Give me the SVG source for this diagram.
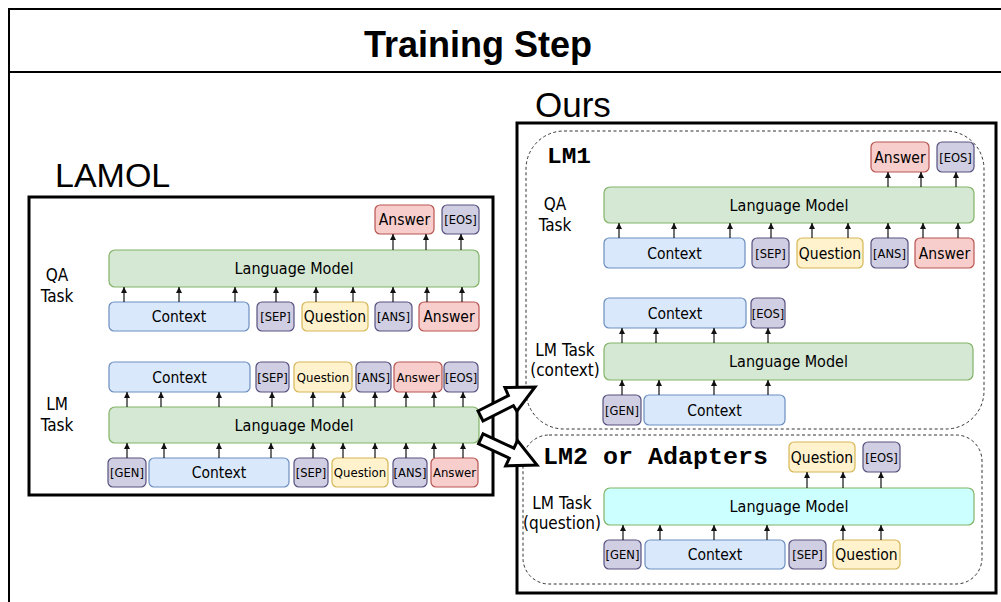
<svg xmlns="http://www.w3.org/2000/svg" width="1001" height="602" viewBox="0 0 1001 602">
  <defs>
    <marker id="tip" viewBox="0 0 6 6" refX="6" refY="3" markerWidth="6" markerHeight="6" markerUnits="userSpaceOnUse" orient="auto">
      <path d="M0,0 L6,3 L0,6 z" fill="#111"/>
    </marker>
    <style>
      .frame { fill: none; stroke: #000; stroke-width: 2; }
      .panel { fill: none; stroke: #000; stroke-width: 3; }
      .dash { fill: none; stroke: #333; stroke-width: 1; stroke-dasharray: 3 2.5; }
      rect.b, rect.g, rect.y, rect.r, rect.p, rect.c { stroke-width: 1.2; }
      .b { fill: #dae8fc; stroke: #6c8ebf; }
      .g { fill: #d5e8d4; stroke: #82b366; }
      .y { fill: #fff2cc; stroke: #d6b656; }
      .r { fill: #f8cecc; stroke: #b85450; }
      .p { fill: #d0cee2; stroke: #56517e; }
      .c { fill: #ccffff; stroke: #82b366; }
      text { font-family: "DejaVu Sans Condensed", "DejaVu Sans", sans-serif; font-stretch: condensed; fill: #000; }
      .t { font-size: 15.5px; text-anchor: middle; }
      .lm { font-size: 16px; text-anchor: middle; }
      .s { font-size: 12.8px; text-anchor: middle; }
      .m { font-size: 13px; text-anchor: middle; }
      .lab { font-size: 17px; text-anchor: middle; }
      .head { font-family: "Liberation Sans", Arial, sans-serif; font-stretch: normal; }
      .mono { font-family: "Liberation Mono", "Courier New", monospace; font-stretch: normal; font-weight: bold; }
      .edges line { stroke: #111; stroke-width: 1.2; marker-end: url(#tip); }
      .big { fill: #fff; stroke: #000; stroke-width: 3; stroke-linejoin: miter; }
    </style>
  </defs>

  <!-- outer table frame with title row -->
  <rect class="frame" x="9" y="9" width="1010" height="620"/>
  <line class="frame" x1="9" y1="72" x2="1001" y2="72"/>
  <text class="head" x="478" y="57" font-size="36" font-weight="bold" text-anchor="middle">Training Step</text>

  <!-- panels -->
  <text class="head" x="55" y="187" font-size="34">LAMOL</text>
  <rect class="panel" x="29" y="197" width="464" height="298"/>
  <text class="head" x="535" y="117" font-size="35">Ours</text>
  <rect class="panel" x="517" y="123" width="479" height="470"/>
  <rect class="dash" x="526" y="131" width="458" height="298" rx="38" ry="38"/>
  <rect class="dash" x="523" y="435" width="459" height="149" rx="26" ry="26"/>
  <text class="mono" x="547" y="163" font-size="22" textLength="44" lengthAdjust="spacingAndGlyphs">LM1</text>
  <text class="mono" x="543" y="464" font-size="24" textLength="225" lengthAdjust="spacingAndGlyphs">LM2 or Adapters</text>

  <!-- task labels -->
  <g id="labels">
    <text class="lab" x="57" y="281">QA</text>
    <text class="lab" x="57" y="302">Task</text>
    <text class="lab" x="57" y="410">LM</text>
    <text class="lab" x="57" y="431">Task</text>
    <text class="lab" x="555" y="210">QA</text>
    <text class="lab" x="555" y="231">Task</text>
    <text class="lab" x="565" y="356">LM Task</text>
    <text class="lab" x="565" y="376">(context)</text>
    <text class="lab" x="562" y="509">LM Task</text>
    <text class="lab" x="562" y="529">(question)</text>
  </g>

  <!-- LAMOL: QA task -->
  <g id="lamol-qa-out-answer"><rect class="r" x="375" y="205" width="59" height="29" rx="5"/><text class="t" x="404.5" y="225">Answer</text></g>
  <g id="lamol-qa-out-eos"><rect class="p" x="442" y="205" width="37" height="29" rx="5"/><text class="s" x="460.5" y="224">[EOS]</text></g>
  <g id="lamol-qa-lm"><rect class="g" x="109" y="250" width="370" height="37" rx="6"/><text class="lm" x="294" y="274.3">Language Model</text></g>
  <g id="lamol-qa-context"><rect class="b" x="109" y="302" width="140" height="29" rx="5"/><text class="t" x="179" y="322">Context</text></g>
  <g id="lamol-qa-sep"><rect class="p" x="257" y="302" width="37" height="29" rx="5"/><text class="s" x="275.5" y="321">[SEP]</text></g>
  <g id="lamol-qa-question"><rect class="y" x="302" y="302" width="66" height="29" rx="5"/><text class="t" x="335" y="322">Question</text></g>
  <g id="lamol-qa-ans"><rect class="p" x="375" y="302" width="37" height="29" rx="5"/><text class="s" x="393.5" y="321">[ANS]</text></g>
  <g id="lamol-qa-answer"><rect class="r" x="419" y="302" width="60" height="29" rx="5"/><text class="t" x="449" y="322">Answer</text></g>

  <!-- LAMOL: LM task -->
  <g id="lamol-lm-out-context"><rect class="b" x="109" y="362" width="141" height="30" rx="5"/><text class="t" x="179.5" y="382.5">Context</text></g>
  <g id="lamol-lm-out-sep"><rect class="p" x="256" y="362" width="33" height="30" rx="5"/><text class="s" x="272.5" y="381.5">[SEP]</text></g>
  <g id="lamol-lm-out-question"><rect class="y" x="294" y="362" width="58" height="30" rx="5"/><text class="m" x="323" y="381.7">Question</text></g>
  <g id="lamol-lm-out-ans"><rect class="p" x="356" y="362" width="35" height="30" rx="5"/><text class="s" x="373.5" y="381.5">[ANS]</text></g>
  <g id="lamol-lm-out-answer"><rect class="r" x="394" y="362" width="48" height="30" rx="5"/><text class="m" x="418" y="381.7">Answer</text></g>
  <g id="lamol-lm-out-eos"><rect class="p" x="444" y="362" width="34" height="30" rx="5"/><text class="s" x="461" y="381.5">[EOS]</text></g>
  <g id="lamol-lm-lm"><rect class="g" x="109" y="407" width="370" height="36" rx="6"/><text class="lm" x="294" y="430.8">Language Model</text></g>
  <g id="lamol-lm-gen"><rect class="p" x="108" y="458" width="38" height="29" rx="5"/><text class="s" x="127" y="477">[GEN]</text></g>
  <g id="lamol-lm-context"><rect class="b" x="149" y="458" width="140" height="29" rx="5"/><text class="t" x="219" y="478">Context</text></g>
  <g id="lamol-lm-sep"><rect class="p" x="294" y="458" width="34" height="29" rx="5"/><text class="s" x="311" y="477">[SEP]</text></g>
  <g id="lamol-lm-question"><rect class="y" x="332" y="458" width="56" height="29" rx="5"/><text class="m" x="360" y="477.2">Question</text></g>
  <g id="lamol-lm-ans"><rect class="p" x="393" y="458" width="34" height="29" rx="5"/><text class="s" x="410" y="477">[ANS]</text></g>
  <g id="lamol-lm-answer"><rect class="r" x="431" y="458" width="47" height="29" rx="5"/><text class="m" x="454.5" y="477.2">Answer</text></g>

  <!-- Ours, LM1: QA task -->
  <g id="lm1-qa-out-answer"><rect class="r" x="871" y="142" width="58" height="30" rx="5"/><text class="t" x="900" y="162.5">Answer</text></g>
  <g id="lm1-qa-out-eos"><rect class="p" x="937" y="142" width="37" height="30" rx="5"/><text class="s" x="955.5" y="161.5">[EOS]</text></g>
  <g id="lm1-qa-lm"><rect class="g" x="604" y="187" width="370" height="36" rx="6"/><text class="lm" x="789" y="210.8">Language Model</text></g>
  <g id="lm1-qa-context"><rect class="b" x="604" y="238" width="141" height="30" rx="5"/><text class="t" x="674.5" y="258.5">Context</text></g>
  <g id="lm1-qa-sep"><rect class="p" x="752" y="238" width="37" height="30" rx="5"/><text class="s" x="770.5" y="257.5">[SEP]</text></g>
  <g id="lm1-qa-question"><rect class="y" x="797" y="238" width="66" height="30" rx="5"/><text class="t" x="830" y="258.5">Question</text></g>
  <g id="lm1-qa-ans"><rect class="p" x="871" y="238" width="37" height="30" rx="5"/><text class="s" x="889.5" y="257.5">[ANS]</text></g>
  <g id="lm1-qa-answer"><rect class="r" x="915" y="238" width="59" height="30" rx="5"/><text class="t" x="944.5" y="258.5">Answer</text></g>

  <!-- Ours, LM1: LM task (context) -->
  <g id="lm1-lm-out-context"><rect class="b" x="604" y="298" width="142" height="30" rx="5"/><text class="t" x="675" y="318.5">Context</text></g>
  <g id="lm1-lm-out-eos"><rect class="p" x="751" y="298" width="34" height="30" rx="5"/><text class="s" x="768" y="317.5">[EOS]</text></g>
  <g id="lm1-lm-lm"><rect class="g" x="604" y="343" width="369" height="37" rx="6"/><text class="lm" x="788.5" y="367.3">Language Model</text></g>
  <g id="lm1-lm-gen"><rect class="p" x="603" y="395" width="38" height="30" rx="5"/><text class="s" x="622" y="414.5">[GEN]</text></g>
  <g id="lm1-lm-context"><rect class="b" x="644" y="395" width="141" height="30" rx="5"/><text class="t" x="714.5" y="415.5">Context</text></g>

  <!-- Ours, LM2 or adapters: LM task (question) -->
  <g id="lm2-out-question"><rect class="y" x="789" y="442" width="66" height="30" rx="5"/><text class="t" x="822" y="462.5">Question</text></g>
  <g id="lm2-out-eos"><rect class="p" x="863" y="442" width="37" height="30" rx="5"/><text class="s" x="881.5" y="461.5">[EOS]</text></g>
  <g id="lm2-lm"><rect class="c" x="604" y="488" width="370" height="37" rx="6"/><text class="lm" x="789" y="512.3">Language Model</text></g>
  <g id="lm2-gen"><rect class="p" x="604" y="540" width="37" height="29" rx="5"/><text class="s" x="622.5" y="559">[GEN]</text></g>
  <g id="lm2-context"><rect class="b" x="645" y="540" width="140" height="29" rx="5"/><text class="t" x="715" y="560">Context</text></g>
  <g id="lm2-sep"><rect class="p" x="789" y="540" width="37" height="29" rx="5"/><text class="s" x="807.5" y="559">[SEP]</text></g>
  <g id="lm2-question"><rect class="y" x="833" y="540" width="67" height="29" rx="5"/><text class="t" x="866.5" y="560">Question</text></g>

  <!-- token-to-model connectors -->
  <g id="connectors" class="edges">
    <!-- LAMOL QA: inputs to model -->
    <line x1="124" y1="302" x2="124" y2="287"/><line x1="179" y1="302" x2="179" y2="287"/><line x1="235" y1="302" x2="235" y2="287"/>
    <line x1="276" y1="302" x2="276" y2="287"/><line x1="316" y1="302" x2="316" y2="287"/><line x1="353" y1="302" x2="353" y2="287"/>
    <line x1="393" y1="302" x2="393" y2="287"/><line x1="427" y1="302" x2="427" y2="287"/><line x1="462" y1="302" x2="462" y2="287"/>
    <!-- LAMOL QA: model to outputs -->
    <line x1="393" y1="250" x2="393" y2="234"/><line x1="426" y1="250" x2="426" y2="234"/><line x1="461" y1="250" x2="461" y2="234"/>
    <!-- LAMOL LM: model to outputs -->
    <line x1="127" y1="407" x2="127" y2="392"/><line x1="161" y1="407" x2="161" y2="392"/><line x1="219" y1="407" x2="219" y2="392"/>
    <line x1="272" y1="407" x2="272" y2="392"/><line x1="313" y1="407" x2="313" y2="392"/><line x1="343" y1="407" x2="343" y2="392"/>
    <line x1="375" y1="407" x2="375" y2="392"/><line x1="406" y1="407" x2="406" y2="392"/><line x1="434" y1="407" x2="434" y2="392"/>
    <line x1="463" y1="407" x2="463" y2="392"/>
    <!-- LAMOL LM: inputs to model -->
    <line x1="127" y1="458" x2="127" y2="443"/><line x1="164" y1="458" x2="164" y2="443"/><line x1="219" y1="458" x2="219" y2="443"/>
    <line x1="271" y1="458" x2="271" y2="443"/><line x1="313" y1="458" x2="313" y2="443"/><line x1="343" y1="458" x2="343" y2="443"/>
    <line x1="375" y1="458" x2="375" y2="443"/><line x1="406" y1="458" x2="406" y2="443"/><line x1="434" y1="458" x2="434" y2="443"/>
    <line x1="463" y1="458" x2="463" y2="443"/>
    <!-- LM1 QA: inputs to model -->
    <line x1="619" y1="238" x2="619" y2="223"/><line x1="674" y1="238" x2="674" y2="223"/><line x1="730" y1="238" x2="730" y2="223"/>
    <line x1="771" y1="238" x2="771" y2="223"/><line x1="812" y1="238" x2="812" y2="223"/><line x1="848" y1="238" x2="848" y2="223"/>
    <line x1="888" y1="238" x2="888" y2="223"/><line x1="923" y1="238" x2="923" y2="223"/><line x1="958" y1="238" x2="958" y2="223"/>
    <!-- LM1 QA: model to outputs -->
    <line x1="888" y1="187" x2="888" y2="172"/><line x1="921" y1="187" x2="921" y2="172"/><line x1="956" y1="187" x2="956" y2="172"/>
    <!-- LM1 LM: model to outputs -->
    <line x1="622" y1="343" x2="622" y2="328"/><line x1="656" y1="343" x2="656" y2="328"/><line x1="714" y1="343" x2="714" y2="328"/>
    <line x1="768" y1="343" x2="768" y2="328"/>
    <!-- LM1 LM: inputs to model -->
    <line x1="622" y1="395" x2="622" y2="380"/><line x1="659" y1="395" x2="659" y2="380"/><line x1="714" y1="395" x2="714" y2="380"/>
    <line x1="768" y1="395" x2="768" y2="380"/>
    <!-- LM2: inputs to model -->
    <line x1="623" y1="540" x2="623" y2="525"/><line x1="660" y1="540" x2="660" y2="525"/><line x1="714" y1="540" x2="714" y2="525"/>
    <line x1="767" y1="540" x2="767" y2="525"/><line x1="843" y1="540" x2="843" y2="525"/><line x1="881" y1="540" x2="881" y2="525"/>
    <!-- LM2: model to outputs -->
    <line x1="807" y1="488" x2="807" y2="472"/><line x1="843" y1="488" x2="843" y2="472"/><line x1="881" y1="488" x2="881" y2="472"/>
  </g>

  <!-- hollow block arrows from the LAMOL model into the two new models -->
  <g id="flow-arrows">
    <polygon class="big" points="478,411 508.4,395.6 504.9,387.5 535,387 516.9,411.2 513.4,405.6 483,421"/>
    <polygon class="big" points="483.1,433.8 513.9,448.2 517.5,440.5 537,465 505.7,465.9 509.3,458.2 478.5,443.8"/>
  </g>
</svg>
